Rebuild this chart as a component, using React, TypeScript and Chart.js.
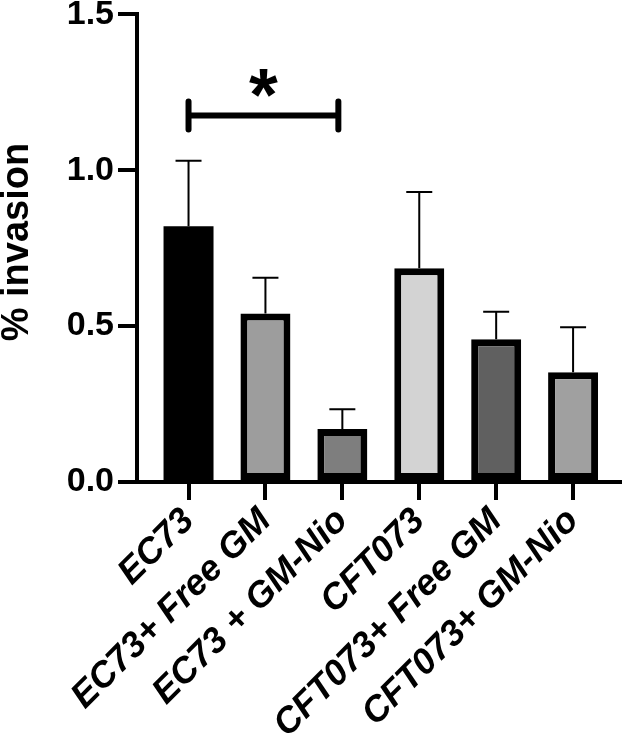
import React, { useEffect, useRef } from "react";
import { Chart, registerables } from "chart.js";

Chart.register(...registerables);

const categories = [
  "EC73",
  "EC73+ Free GM",
  "EC73 + GM-Nio",
  "CFT073",
  "CFT073+ Free GM",
  "CFT073+ GM-Nio",
];
const means = [0.82, 0.54, 0.17, 0.685, 0.458, 0.352];
const errors = [0.21, 0.115, 0.063, 0.245, 0.088, 0.144];
const barColors = ["#000000", "#9d9d9d", "#7e7e7e", "#d3d3d3", "#606060", "#a0a0a0"];
const yMin = 0;
const yMax = 1.5;
const yStep = 0.5;
const sigPair = [0, 2];
const sigLevel = 1.175;
const sigLabel = "*";
const yTitle = "% invasion";

const FONT = '"Liberation Sans", Arial, Helvetica, sans-serif';

const errorBarPlugin = {
  id: "errorBars",
  afterDatasetsDraw(chart: any) {
    const { ctx, scales } = chart;
    const xs = scales.x;
    const ys = scales.y;
    ctx.save();
    ctx.strokeStyle = "#000";
    ctx.lineWidth = 2;
    ctx.lineCap = "butt";
    means.forEach((m, i) => {
      const x = xs.getPixelForValue(i);
      const y0 = ys.getPixelForValue(m);
      const y1 = ys.getPixelForValue(m + errors[i]);
      ctx.beginPath();
      ctx.moveTo(x, y0);
      ctx.lineTo(x, y1);
      ctx.moveTo(x - 13, y1);
      ctx.lineTo(x + 13, y1);
      ctx.stroke();
    });
    // significance bracket
    const xa = xs.getPixelForValue(sigPair[0]);
    const xb = xs.getPixelForValue(sigPair[1]) - 4;
    const yb = ys.getPixelForValue(sigLevel);
    ctx.lineWidth = 6;
    ctx.lineCap = "round";
    ctx.beginPath();
    ctx.moveTo(xa, yb);
    ctx.lineTo(xb, yb);
    ctx.moveTo(xa, yb - 14);
    ctx.lineTo(xa, yb + 14);
    ctx.moveTo(xb, yb - 14);
    ctx.lineTo(xb, yb + 14);
    ctx.stroke();
    ctx.font = `bold 74px ${FONT}`;
    ctx.fillStyle = "#000";
    ctx.textAlign = "left";
    ctx.textBaseline = "alphabetic";
    const mt = ctx.measureText(sigLabel);
    const w = mt.actualBoundingBoxRight + mt.actualBoundingBoxLeft;
    const h = mt.actualBoundingBoxAscent + mt.actualBoundingBoxDescent;
    const cx = (xa + xb) / 2;
    const cy = yb - 33;
    ctx.fillText(
      sigLabel,
      cx - w / 2 + mt.actualBoundingBoxLeft,
      cy + h / 2 - mt.actualBoundingBoxDescent
    );
    // y-axis title
    const ca = chart.chartArea;
    ctx.save();
    ctx.translate(18, (ca.top + ca.bottom) / 2 - 6);
    ctx.rotate(-Math.PI / 2);
    ctx.font = `bold 38px ${FONT}`;
    ctx.textAlign = "center";
    ctx.textBaseline = "middle";
    ctx.fillText(yTitle, 0, 0);
    ctx.restore();
    ctx.restore();
  },
};

export default function App() {
  const ref = useRef<HTMLCanvasElement | null>(null);
  useEffect(() => {
    if (!ref.current) return;
    const chart = new Chart(ref.current, {
      type: "bar",
      data: {
        datasets: [
          {
            data: means.map((m, i) => ({ x: i, y: m })),
            backgroundColor: barColors,
            borderColor: "#000",
            borderWidth: barColors.map((c) => (c === "#000000" ? 0 : 7)),
            borderSkipped: false,
            categoryPercentage: 1,
            barPercentage: 0.65,
          } as any,
        ],
      },
      options: {
        animation: false,
        responsive: true,
        maintainAspectRatio: false,
        layout: { padding: { top: 11, right: 9, left: 0, bottom: 0 } },
        plugins: {
          legend: { display: false },
          tooltip: { enabled: false },
        },
        scales: {
          x: {
            type: "linear",
            offset: false,
            min: -0.67,
            max: 5.61,
            afterBuildTicks: (s: any) => {
              s.ticks = categories.map((_, i) => ({ value: i }));
            },
            afterFit: (s: any) => {
              s.height = 255;
            },
            grid: {
              display: true,
              offset: false,
              drawOnChartArea: false,
              drawTicks: true,
              tickLength: 18,
              tickWidth: 4,
              tickColor: "#000",
              color: "#000",
              lineWidth: 4,
            },
            border: { display: true, color: "#000", width: 4 },
            ticks: {
              autoSkip: false,
              minRotation: 45,
              maxRotation: 45,
              padding: 0,
              color: "#000",
              font: { family: FONT, size: 36, weight: "bold", style: "italic" },
              callback: (v: any) => categories[v] ?? "",
            },
          },
          y: {
            min: yMin,
            max: yMax,
            afterFit: (s: any) => {
              s.width = 137;
            },
            grid: {
              display: true,
              drawOnChartArea: false,
              drawTicks: true,
              tickLength: 19,
              tickWidth: 4,
              tickColor: "#000",
              color: "#000",
              lineWidth: 4,
            },
            border: { display: true, color: "#000", width: 4 },
            ticks: {
              stepSize: yStep,
              padding: 4,
              color: "#000",
              font: { family: FONT, size: 34, weight: "bold", lineHeight: 0.6 },
              callback: (v: any) => Number(v).toFixed(1),
            },
            title: { display: false },
          },
        },
      },
      plugins: [errorBarPlugin],
    });
    return () => chart.destroy();
  }, []);
  return (
    <div style={{ position: "absolute", left: 0, top: 0, width: 629, height: 737, background: "#fff" }}>
      <canvas ref={ref} />
    </div>
  );
}
